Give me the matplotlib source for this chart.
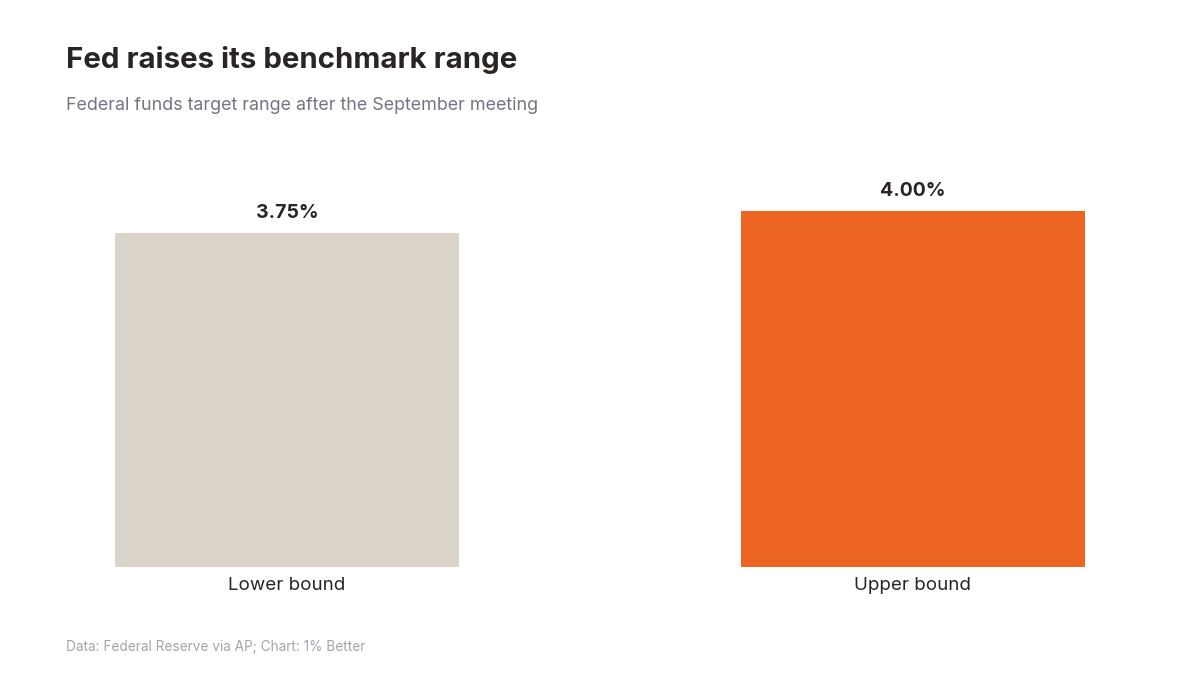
import matplotlib
matplotlib.use("Agg")
import matplotlib.pyplot as plt

categories = ["Lower bound", "Upper bound"]
values = [3.75, 4.00]
value_labels = ["3.75%", "4.00%"]
colors = ["#DAD4CB", "#EC6521"]

plt.rcParams['font.family'] = ['Inter', 'DejaVu Sans']

fig = plt.figure(figsize=(12, 6.75), dpi=100)
fig.patch.set_facecolor("white")

W, H = 1200, 675
ax = fig.add_axes([115 / W, (H - 567) / H, 970 / W, (567 - 211) / H])
bw = 344 / 626
x = list(range(len(categories)))
ax.bar(x, values, width=bw, color=colors)
ax.set_xlim(-bw / 2, 1 + bw / 2)
ax.set_ylim(0, max(values))
for s in ax.spines.values():
    s.set_visible(False)
ax.set_yticks([])
ax.set_xticks(x)
ax.set_xticklabels(categories, fontsize=13.5, color="#2a2522")
ax.tick_params(axis="x", length=0, pad=7)

for xi, v, lab in zip(x, values, value_labels):
    ax.annotate(lab, (xi, v), xytext=(0, 8), textcoords="offset points",
                ha="center", va="bottom", fontsize=14, fontweight="bold",
                color="#2a2522", annotation_clip=False)

fig.text(66 / W, 1 - 68 / H, "Fed raises its benchmark range", fontsize=21.2,
         fontweight="bold", color="#2a2522", ha="left", va="baseline")
fig.text(66 / W, 1 - 110 / H, "Federal funds target range after the September meeting",
         fontsize=12.9, color="#737682", ha="left", va="baseline")
fig.text(66 / W, 1 - 651 / H, "Data: Federal Reserve via AP; Chart: 1% Better",
         fontsize=9.8, color="#a3a5ad", ha="left", va="baseline")

fig.savefig("out.png", dpi=100, facecolor="white")
